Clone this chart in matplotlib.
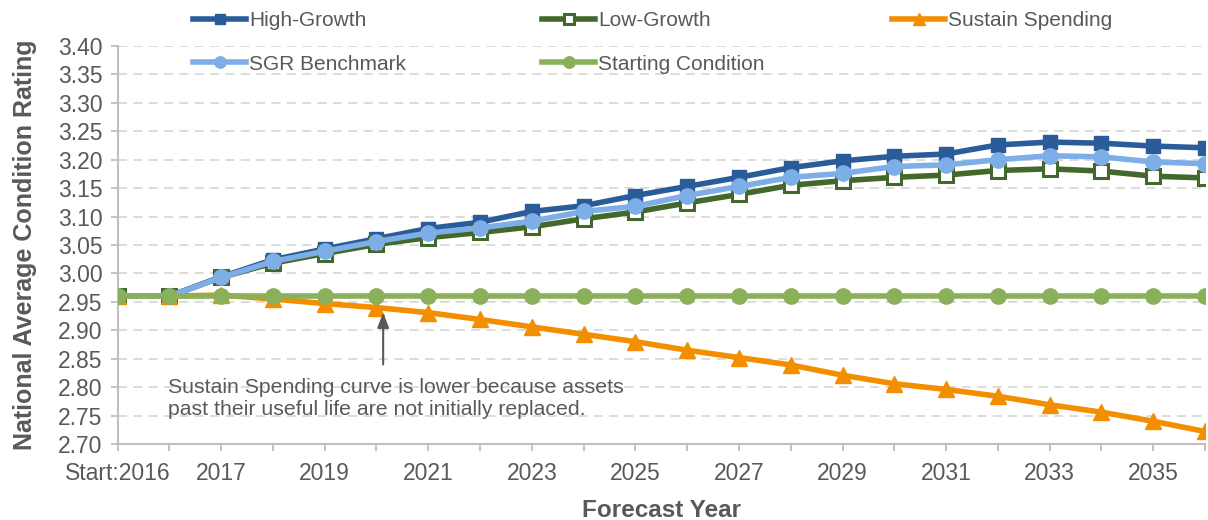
import numpy as np
import matplotlib
matplotlib.use("Agg")
import matplotlib.pyplot as plt

plt.rcParams['font.family'] = ['Liberation Sans', 'DejaVu Sans']

categories = ["Start:2016", "2016", "2017", "2018", "2019", "2020", "2021", "2022",
              "2023", "2024", "2025", "2026", "2027", "2028", "2029", "2030",
              "2031", "2032", "2033", "2034", "2035", "2036"]

high_growth = [2.96, 2.96, 2.994, 3.024, 3.043, 3.061, 3.079, 3.090, 3.109, 3.119, 3.137,
               3.153, 3.169, 3.186, 3.198, 3.206, 3.210, 3.226, 3.231, 3.229, 3.224, 3.221]
low_growth = [2.96, 2.96, 2.993, 3.018, 3.035, 3.051, 3.063, 3.072, 3.082, 3.096, 3.108,
              3.124, 3.139, 3.155, 3.163, 3.169, 3.173, 3.181, 3.184, 3.180, 3.171, 3.168]
sustain = [2.96, 2.96, 2.962, 2.955, 2.947, 2.940, 2.931, 2.919, 2.906, 2.893, 2.880,
           2.865, 2.852, 2.839, 2.821, 2.806, 2.796, 2.784, 2.769, 2.756, 2.740, 2.722]
sgr = [2.96, 2.96, 2.993, 3.021, 3.039, 3.056, 3.071, 3.080, 3.092, 3.109, 3.118,
       3.137, 3.153, 3.169, 3.176, 3.188, 3.191, 3.200, 3.207, 3.205, 3.196, 3.193]
starting = [2.96] * 22

note = "Sustain Spending curve is lower because assets\npast their useful life are not initially replaced."

TEXT = "#595959"
AXIS = "#BFBFBF"

fig = plt.figure(figsize=(12.08, 5.2), dpi=100)
ax = fig.add_axes([117.5 / 1208, 76 / 520, (1205 - 117.5) / 1208, 398 / 520])

x = np.arange(len(categories))
lw = 4
h1, = ax.plot(x, high_growth, color="#2A5C99", lw=lw, marker="s", ms=10.5,
              label="High-Growth", zorder=3)
h2, = ax.plot(x, low_growth, color="#43682B", lw=lw, marker="s", ms=10,
              mfc="white", mec="#43682B", mew=2.2, label="Low-Growth", zorder=4)
h3, = ax.plot(x, sustain, color="#F28E00", lw=lw, marker="^", ms=11,
              label="Sustain Spending", zorder=5)
h4, = ax.plot(x, sgr, color="#7DAEE8", lw=lw, marker="o", ms=11,
              label="SGR Benchmark", zorder=6)
h5, = ax.plot(x, starting, color="#8AB05A", lw=lw, marker="o", ms=11,
              label="Starting Condition", zorder=7)

ax.set_xlim(0, len(categories) - 1)
ax.set_ylim(2.70, 3.40)
ax.set_yticks(np.arange(2.70, 3.401, 0.05))
ax.set_yticklabels([f"{v:.2f}" for v in np.arange(2.70, 3.401, 0.05)])
ax.set_xticks(x)
ax.set_xticklabels([c if i % 2 == 0 else "" for i, c in enumerate(categories)])

ax.grid(axis="y", color="#D9D9D9", ls=(0, (5, 3.5)), lw=1.3, zorder=0)
ax.set_axisbelow(True)
for s in ["top", "right"]:
    ax.spines[s].set_visible(False)
for s in ["left", "bottom"]:
    ax.spines[s].set_color(AXIS)
    ax.spines[s].set_linewidth(1.5)
ax.spines["bottom"].set_zorder(2)
ax.tick_params(axis="both", colors=AXIS, length=5, width=1.3, labelsize=16.5,
               labelcolor=TEXT)
ax.tick_params(axis="x", pad=8)
ax.tick_params(axis="y", pad=6)

ax.set_xlabel("Forecast Year", fontsize=17.5, fontweight="bold", color=TEXT, labelpad=10)
ax.set_ylabel("National Average Condition Rating", fontsize=18, fontweight="bold",
              color=TEXT, labelpad=15)

ax.annotate("", xy=(5.13, 2.936), xytext=(5.13, 2.835),
            arrowprops=dict(arrowstyle="-|>,head_length=0.9,head_width=0.35",
                            color=TEXT, lw=1.5), zorder=8)
ax.text(0.98, 2.780, note, fontsize=15.3, color=TEXT, ha="left", va="center",
        linespacing=1.2, zorder=8)

cols = [([h1, h4], 193), ([h2, h5], 542), ([h3], 892)]
for handles, left in cols:
    leg = fig.legend(handles=handles, loc="upper left",
                     bbox_to_anchor=(left / 1208, 1 - 11 / 520),
                     frameon=False, fontsize=15, handlelength=2.55,
                     handletextpad=0.15, labelspacing=1.18, markerscale=0.75,
                     borderaxespad=0, borderpad=0)
    for t in leg.get_texts():
        t.set_color(TEXT)

fig.savefig("out.png", dpi=100)
